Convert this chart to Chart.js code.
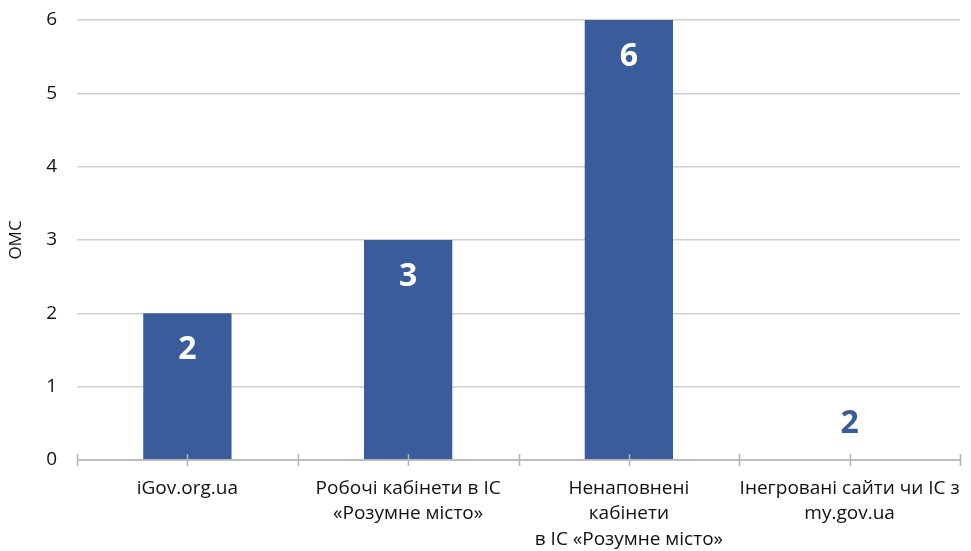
<!DOCTYPE html>
<html>
<head>
<meta charset="utf-8">
<script src="https://cdn.jsdelivr.net/npm/chart.js@4/dist/chart.umd.min.js"></script>
<style>
  html, body { margin: 0; padding: 0; background: #fff; }
  #wrap { width: 971px; height: 551px; }
</style>
</head>
<body>
<div id="wrap"><canvas id="chart"></canvas></div>
<script>
const categories = [
  ['iGov.org.ua'],
  ['Робочі кабінети в ІС', '«Розумне місто»'],
  ['Ненаповнені', 'кабінети', 'в ІС «Розумне місто»'],
  ['Інегровані сайти чи ІС з', 'my.gov.ua'],
];
const values = [2, 3, 6, 0];
const valueLabels = ['2', '3', '6', '2'];
const yTicks = [0, 1, 2, 3, 4, 5, 6];
const yTitle = 'ОМС';

const BAR = '#3b5c9a';
const FONT = "'Open Sans', 'Noto Sans', sans-serif";

// value labels: white inside the top of a bar, blue above the base when there is no bar
const valueLabelPlugin = {
  id: 'valueLabels',
  afterDatasetsDraw(chart) {
    const { ctx } = chart;
    const meta = chart.getDatasetMeta(0);
    ctx.save();
    ctx.font = `bold 32px ${FONT}`;
    ctx.textAlign = 'center';
    ctx.textBaseline = 'middle';
    meta.data.forEach((bar, i) => {
      if (values[i] > 0) {
        ctx.fillStyle = '#ffffff';
        ctx.fillText(valueLabels[i], bar.x, bar.y + 37);
      } else {
        ctx.fillStyle = BAR;
        ctx.fillText(valueLabels[i], bar.x, bar.base - 36);
      }
    });
    ctx.restore();
  },
};

// small tick marks across the x axis, at category edges and centres
const axisTicksPlugin = {
  id: 'axisTicks',
  afterDraw(chart) {
    const { ctx } = chart;
    const x = chart.scales.x;
    const y0 = chart.scales.y.getPixelForValue(0);
    const n = categories.length;
    const step = (x.right - x.left) / n;
    ctx.save();
    ctx.strokeStyle = '#b4b4b4';
    ctx.lineWidth = 1.5;
    ctx.beginPath();
    for (let i = 0; i <= n * 2; i++) {
      const px = Math.round(x.left + i * step / 2) + 0.5;
      ctx.moveTo(px, y0 - 6);
      ctx.lineTo(px, y0 + 6);
    }
    ctx.moveTo(x.left, y0);
    ctx.lineTo(x.right, y0);
    ctx.stroke();
    ctx.restore();
  },
};

new Chart(document.getElementById('chart'), {
  type: 'bar',
  data: {
    labels: categories,
    datasets: [{
      data: values,
      backgroundColor: BAR,
      borderWidth: 0,
      categoryPercentage: 0.8,
      barPercentage: 0.5,
    }],
  },
  options: {
    responsive: true,
    maintainAspectRatio: false,
    animation: false,
    layout: { padding: { top: 20, right: 11, left: 0, bottom: 0 } },
    plugins: { legend: { display: false }, tooltip: { enabled: false } },
    scales: {
      x: {
        grid: { display: false, drawTicks: false },
        border: { display: false },
        ticks: {
          autoSkip: false, maxRotation: 0, minRotation: 0, padding: 16,
          color: '#111', font: { family: FONT, size: 19, lineHeight: 1.33 },
        },
        afterFit(scale) {
          scale.height = 91;
          scale.paddingLeft = 0;
          scale.paddingRight = 0;
        },
      },
      y: {
        min: 0, max: 6,
        afterBuildTicks(scale) { scale.ticks = yTicks.map(v => ({ value: v })); },
        grid: { color: '#cfcfcf', lineWidth: 1.5, drawTicks: false },
        border: { display: false },
        ticks: { padding: 20, color: '#111', font: { family: FONT, size: 19 } },
        title: {
          display: true, text: yTitle, color: '#111', padding: { top: 6, bottom: 0 },
          font: { family: FONT, size: 17 },
        },
        afterFit(scale) {
          scale.width = 77;
          scale.paddingTop = 0;
          scale.paddingBottom = 0;
        },
      },
    },
  },
  plugins: [valueLabelPlugin, axisTicksPlugin],
});
</script>
</body>
</html>
